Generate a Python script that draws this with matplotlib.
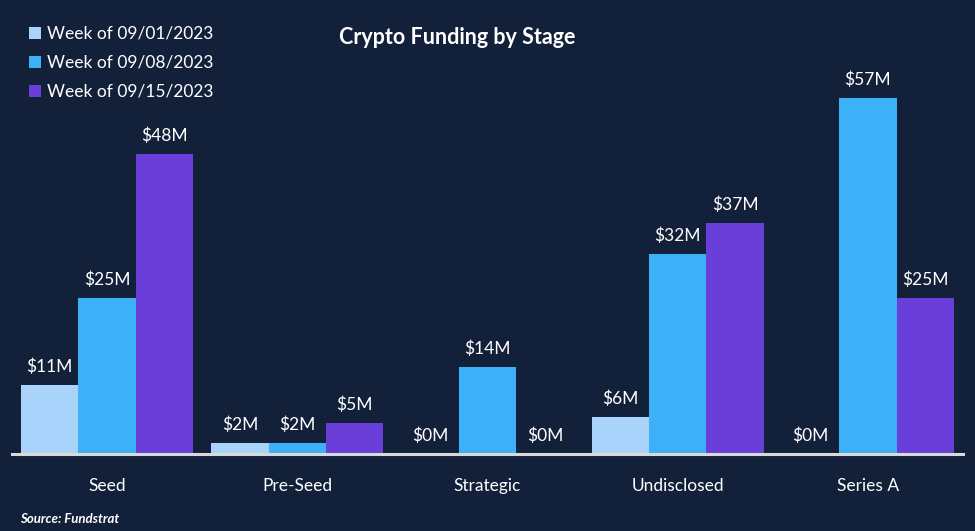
import matplotlib
matplotlib.use("Agg")
import matplotlib.pyplot as plt
import numpy as np

plt.rcParams['font.family'] = ['Lato', 'DejaVu Sans']

categories = ["Seed", "Pre-Seed", "Strategic", "Undisclosed", "Series A"]
series_names = ["Week of 09/01/2023", "Week of 09/08/2023", "Week of 09/15/2023"]
week1 = [11, 1.8, 0, 6, 0]
week2 = [25, 1.8, 14, 32, 57]
week3 = [48, 5, 0, 37, 25]
colors = ["#A9D3FA", "#3DB1F8", "#6A3ED8"]
bg = "#13203A"

W, H = 975, 531
fig = plt.figure(figsize=(W / 100, H / 100), dpi=100, facecolor=bg)
ax = fig.add_axes([12 / W, (H - 454) / H, (963 - 12) / W, 375 / H])
ax.set_facecolor(bg)

x = np.arange(len(categories))
bw = 0.302
for i, (vals, c) in enumerate(zip([week1, week2, week3], colors)):
    pos = x + (i - 1) * bw
    ax.bar(pos, vals, width=bw, color=c, label=series_names[i], zorder=2)
    for p, v in zip(pos, vals):
        ax.text(p, v + 1.6, f"${v:.0f}M", ha="center", va="bottom",
                color="white", fontsize=12.5)

ax.set_xlim(-0.5, len(categories) - 0.5)
ax.set_ylim(0, 60)
ax.set_yticks([])
ax.set_xticks(x)
ax.set_xticklabels(categories, color="white", fontsize=12.5)
ax.tick_params(axis="x", length=0, pad=17)
for s in ["top", "right", "left"]:
    ax.spines[s].set_visible(False)
ax.spines["bottom"].set_color("#D9D9D9")
ax.spines["bottom"].set_linewidth(2.2)
ax.spines["bottom"].set_zorder(3)

fig.text(457 / W, 1 - 37 / H, "Crypto Funding by Stage", ha="center", va="center",
         color="white", fontsize=15.5, fontweight="bold")

leg = fig.legend(loc="upper left", bbox_to_anchor=(22 / W, 1 - 19 / H),
                 frameon=False, fontsize=12.5, labelcolor="white",
                 handlelength=0.7, handleheight=0.7, handletextpad=0.35,
                 labelspacing=0.75, borderaxespad=0)

fig.text(20 / W, 1 - 519 / H, "Source: Fundstrat", ha="left", va="center",
         color="white", fontsize=9.5, fontweight="bold", style="italic")

fig.savefig("out.png", dpi=100, facecolor=bg)
